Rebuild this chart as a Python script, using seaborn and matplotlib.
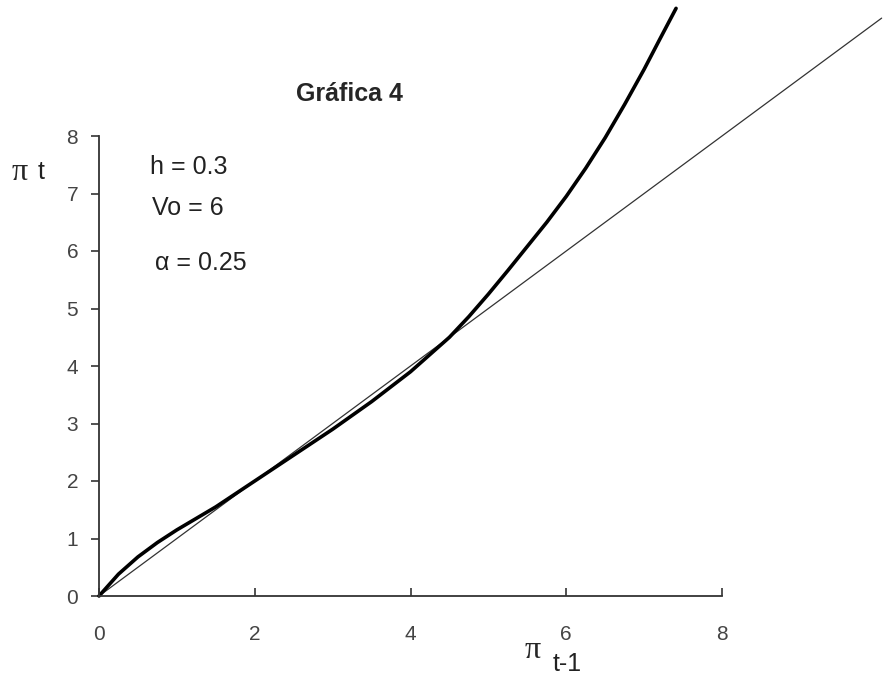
import matplotlib
matplotlib.use("Agg")
import matplotlib.pyplot as plt
import seaborn as sns
import pandas as pd

# ---------------------------------------------------------
# Data
# ---------------------------------------------------------
pi_prev = [0.0, 0.25, 0.5, 0.75, 1.0, 1.25, 1.5, 2.0, 2.5, 3.0, 3.5,
           4.0, 4.5, 4.75, 5.0, 5.25, 5.5, 5.75, 6.0, 6.25, 6.5, 6.75,
           7.0, 7.2, 7.41]
pi_now = [0.0, 0.38, 0.68, 0.93, 1.15, 1.35, 1.55, 2.0, 2.45, 2.9, 3.38,
          3.9, 4.5, 4.86, 5.25, 5.66, 6.08, 6.5, 6.95, 7.44, 7.97, 8.55,
          9.16, 9.68, 10.22]

# 45 degree reference line
diag_x = [0.0, 10.05]
diag_y = [0.0, 10.05]

x_ticks = [0, 2, 4, 6, 8]
y_ticks = [0, 1, 2, 3, 4, 5, 6, 7, 8]

sns.set_style("ticks")
plt.rcParams["font.family"] = ["Liberation Sans", "DejaVu Sans"]

W, H = 883, 675
fig = plt.figure(figsize=(W / 100, H / 100), dpi=100)
ax = fig.add_axes([99 / W, 1 - 596 / H, (722 - 99) / W, (596 - 136) / H])

curve_df = pd.DataFrame({"prev": pi_prev, "now": pi_now})
diag_df = pd.DataFrame({"prev": diag_x, "now": diag_y})

sns.lineplot(data=diag_df, x="prev", y="now", ax=ax, color="#333333",
             linewidth=0.9, sort=False, estimator=None)
sns.lineplot(data=curve_df, x="prev", y="now", ax=ax, color="black",
             linewidth=2.6, sort=False, estimator=None)
for ln in ax.get_lines():
    ln.set_clip_on(False)
    ln.set_solid_joinstyle("round")

ax.set_xlim(0, 8)
ax.set_ylim(0, 8)
ax.set_xticks(x_ticks)
ax.set_yticks(y_ticks)
ax.set_xlabel("")
ax.set_ylabel("")
sns.despine(ax=ax)
for side in ["left", "bottom"]:
    ax.spines[side].set_color("#333333")
    ax.spines[side].set_linewidth(1.3)

ax.tick_params(axis="x", direction="in", length=6, width=1.2, pad=21,
               labelsize=15, labelcolor="#444444", color="#333333")
ax.tick_params(axis="y", direction="out", length=6, width=1.2, pad=9,
               labelsize=15, labelcolor="#444444", color="#333333")

# title and parameter notes
fig.text(349 / W, 1 - 94 / H, "Gráfica 4", ha="center", va="center",
         fontsize=18, fontweight="bold")
fig.text(150 / W, 1 - 167 / H, "h = 0.3", ha="left", va="center",
         fontsize=18, color="#222222")
fig.text(152 / W, 1 - 208 / H, "Vo = 6", ha="left", va="center",
         fontsize=18, color="#222222")
fig.text(155 / W, 1 - 263 / H, "α = 0.25", ha="left", va="center",
         fontsize=18, color="#222222")

# axis labels
fig.text(20 / W, 1 - 172 / H, "π", ha="center", va="center",
         fontsize=23, family=["Liberation Serif", "DejaVu Serif"])
fig.text(41 / W, 1 - 172 / H, "t", ha="center", va="center",
         fontsize=18, color="#222222")
fig.text(533 / W, 1 - 651 / H, "π", ha="center", va="center",
         fontsize=23, family=["Liberation Serif", "DejaVu Serif"])
fig.text(567 / W, 1 - 664 / H, "t-1", ha="center", va="center",
         fontsize=18, color="#222222")

fig.savefig("out.png", dpi=100)
